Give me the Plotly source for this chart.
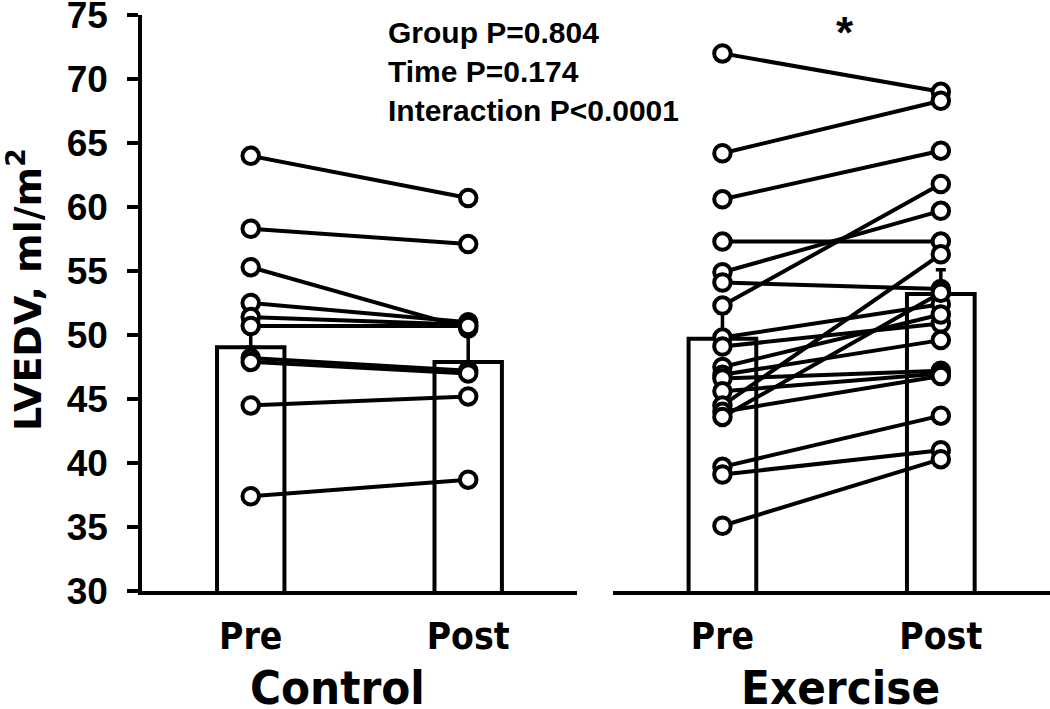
import plotly.graph_objects as go

# ---------------- data ----------------
time_labels = ["Pre", "Post"]
group_labels = ["Control", "Exercise"]

control_pre = [64.0, 58.3, 55.3, 52.5, 51.4, 50.7, 48.2, 47.9, 44.5, 37.4]
control_post = [60.7, 57.1, 50.5, 51.0, 50.8, 50.7, 47.2, 47.0, 45.2, 38.7]

exercise_pre = [72.0, 64.2, 60.6, 57.3, 54.9, 54.1, 52.3, 49.8, 49.1, 47.5,
                46.9, 46.6, 45.6, 44.5, 44.0, 43.6, 39.7, 39.1, 35.1]
exercise_post = [69.0, 68.3, 64.4, 57.3, 59.7, 53.6, 61.8, 52.4, 50.9, 51.6,
                 49.6, 47.2, 47.0, 56.3, 46.8, 53.3, 43.7, 41.0, 40.3]

control_mean = [49.05, 47.9]
control_sem = [1.7, 2.4]
exercise_mean = [49.7, 53.2]
exercise_sem = [2.0, 1.9]

y_ticks = [30, 35, 40, 45, 50, 55, 60, 65, 70, 75]
stats_text = ["Group P=0.804", "Time P=0.174", "Interaction P<0.0001"]
y_title = "LVEDV, ml/m<sup>2</sup>"

# ---------------- figure ----------------
BOLD = "Liberation Sans, Arial, sans-serif"
WIDE = "DejaVu Sans, Liberation Sans, sans-serif"
NARROW = "Liberation Sans Narrow, Arial Narrow, DejaVu Sans Condensed, sans-serif"
LW = 4

fig = go.Figure()

panels = [
    ("x", control_mean, control_sem, control_pre, control_post),
    ("x2", exercise_mean, exercise_sem, exercise_pre, exercise_post),
]
xpos = [0, 1]

for xa, means, sems, pre, post in panels:
    fig.add_trace(go.Bar(
        x=xpos, y=means, xaxis=xa, yaxis="y", width=0.31,
        marker=dict(color="white", line=dict(color="black", width=LW)),
        error_y=dict(type="data", array=sems, arrayminus=[0] * len(sems),
                     symmetric=False, color="black", thickness=3.5, width=5),
        hoverinfo="skip",
    ))
    lx, ly = [], []
    for a, b in zip(pre, post):
        lx += [0, 1, None]
        ly += [a, b, None]
    fig.add_trace(go.Scatter(
        x=lx, y=ly, xaxis=xa, yaxis="y", mode="lines",
        line=dict(color="black", width=LW), hoverinfo="skip",
    ))
    mx = [0] * len(pre) + [1] * len(post)
    my = list(pre) + list(post)
    fig.add_trace(go.Scatter(
        x=mx, y=my, xaxis=xa, yaxis="y", mode="markers",
        marker=dict(symbol="circle", size=16.5, color="white",
                    line=dict(color="black", width=LW)),
        hoverinfo="skip",
    ))

xcommon = dict(
    range=[-0.5, 1.5], showline=True, linecolor="black", linewidth=LW,
    showgrid=False, zeroline=False, ticks="",
    tickvals=xpos, ticktext=time_labels,
    tickfont=dict(family=NARROW, size=37, color="black", weight="bold"),
    ticklabelstandoff=10, fixedrange=True, automargin=False,
)

fig.update_layout(
    width=1050, height=709,
    margin=dict(l=142, r=0, t=15, b=118, autoexpand=False),
    paper_bgcolor="white", plot_bgcolor="white",
    showlegend=False, barmode="overlay",
    xaxis=dict(domain=[0, 0.479], anchor="y", **xcommon),
    xaxis2=dict(domain=[0.519, 1.0], anchor="y", **xcommon),
    yaxis=dict(
        range=[30, 75], anchor="x", showline=True, linecolor="black",
        linewidth=3.5, showgrid=False, zeroline=False,
        ticks="outside", ticklen=11, tickwidth=3.5, tickcolor="black",
        tickvals=y_ticks, ticktext=[str(v) for v in y_ticks],
        tickfont=dict(family=BOLD, size=37, color="black", weight="bold"),
        ticklabelstandoff=12, ticklabeloverflow="allow",
        fixedrange=True, automargin=False,
    ),
)

# y-axis title (rotated text)
fig.add_annotation(
    x=-(142 - 25) / 908, y=1 - (290 - 15) / 576, xref="paper", yref="paper",
    xanchor="center", yanchor="middle", showarrow=False, textangle=-90,
    text=y_title,
    font=dict(family=WIDE, size=38, color="black", weight="bold"),
)

# group labels
group_x = [0.397, 0.54]
for xa, gx, name in zip(["x", "x2"], group_x, group_labels):
    fig.add_annotation(
        x=gx, y=0, xref=xa, yref="paper", yshift=-96, text=name,
        showarrow=False, yanchor="middle",
        font=dict(family=NARROW, size=47, color="black", weight="bold"),
    )

fig.add_annotation(
    x=(386 - 142) / 908, y=1.0, xref="paper", yref="paper",
    xanchor="left", yanchor="top", align="left", showarrow=False,
    text="<br>".join(stats_text), yshift=1,
    font=dict(family=BOLD, size=30, color="black", weight="bold"),
)

fig.add_annotation(
    x=(845 - 142) / 908, y=1.0, xref="paper", yref="paper",
    xanchor="center", yanchor="top", showarrow=False, yshift=9,
    text="*", font=dict(family=BOLD, size=44, color="black", weight="bold"),
)

fig.write_html("out.html", config={"displayModeBar": False},
               post_script="document.body.style.margin='0';")
